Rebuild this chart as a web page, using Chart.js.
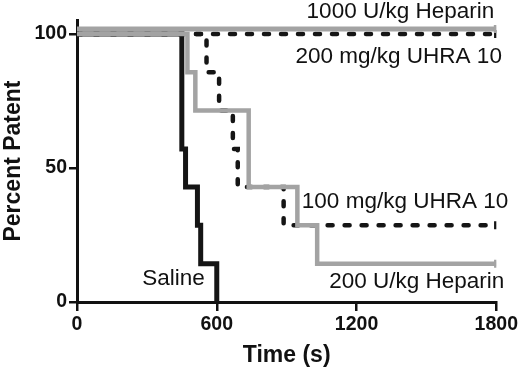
<!DOCTYPE html>
<html>
<head>
<meta charset="utf-8">
<script src="https://cdn.jsdelivr.net/npm/chart.js@4/dist/chart.umd.min.js"></script>
<style>
  html, body { margin: 0; padding: 0; background: #fff; }
  #wrap { width: 520px; height: 370px; }
</style>
</head>
<body>
<div id="wrap"><canvas id="chartArea"></canvas></div>
<script>
'use strict'
// Kaplan-Meier style steps: time (s) where each drop happens, percent after the drop
const salineTime = [0, 450, 466, 517, 531, 600];
const salinePct  = [100, 57.1, 42.9, 28.6, 14.3, 0];
const hep200Time = [0, 474, 508, 737, 946, 1031, 1800];
const hep200Pct  = [100, 85.7, 71.4, 42.9, 28.6, 14.3, 14.3];
const uhra100Time = [0, 556, 610, 669, 690, 887, 1800];
const uhra100Pct  = [100, 85.7, 71.4, 57.1, 42.9, 28.6, 28.6];
const uhra200Time = [0, 1800];
const uhra200Pct  = [100, 100];
const hep1000Time = [0, 1800];
const hep1000Pct  = [101.8, 101.8];   // drawn nudged just above 100 in the figure

const xTicks = [0, 600, 1200, 1800];
const yTicks = [0, 50, 100];

const seriesNames = ['1000 U/kg Heparin', '200 mg/kg UHRA 10', '100 mg/kg UHRA 10', '200 U/kg Heparin', 'Saline'];

// text labels next to the curves (anchor in data units)
const curveLabels = [
    { text: seriesNames[0], t: 1791, p: 105.8, align: 'right' },
    { text: seriesNames[1], t: 1824, p: 89.2, align: 'right' },
    { text: seriesNames[2], t: 1851, p: 35.2, align: 'right' },
    { text: seriesNames[3], t: 1834, p: 5.2, align: 'right' },
    { text: seriesNames[4], t: 414, p: 6.3, align: 'center' }
];

const GRAY = '#a3a3a3';
const BLACK = '#151515';
const FONT = '"Liberation Sans", Arial, sans-serif';

function pts(ts, ps) {
    let out = [];
    for (let i = 0; i < ts.length; i++) {
        out.push({ x: ts[i], y: ps[i] });
    }
    return out;
}

function endTick(n) {
    return function(ctx) { return ctx.dataIndex === n - 1 ? 4 : 0; };
}

const labelPlugin = {
    id: 'curveLabels',
    afterDatasetsDraw(chart) {
        let ctx = chart.ctx;
        let xs = chart.scales.x, ys = chart.scales.y;
        ctx.save();
        ctx.fillStyle = '#111';
        ctx.font = '22.5px ' + FONT;
        ctx.textBaseline = 'alphabetic';
        for (let k = 0; k < curveLabels.length; k++) {
            let l = curveLabels[k];
            ctx.textAlign = l.align;
            ctx.fillText(l.text, xs.getPixelForValue(l.t), ys.getPixelForValue(l.p));
        }
        ctx.restore();
    }
};

let ctx = document.getElementById('chartArea').getContext('2d');
let chart = new Chart(ctx, {
    type: 'line',
    data: {
        datasets: [
            {
                label: seriesNames[0],
                data: pts(hep1000Time, hep1000Pct),
                borderColor: GRAY, backgroundColor: GRAY,
                borderWidth: 5, stepped: 'before',
                pointStyle: 'line', rotation: 90, pointRadius: endTick(hep1000Time.length),
                order: 0
            },
            {
                label: seriesNames[3],
                data: pts(hep200Time, hep200Pct),
                borderColor: GRAY, backgroundColor: GRAY,
                borderWidth: 4.5, stepped: 'before',
                pointStyle: 'line', rotation: 90, pointRadius: endTick(hep200Time.length),
                order: 0
            },
            {
                label: seriesNames[1],
                data: pts(uhra200Time, uhra200Pct),
                borderColor: BLACK, backgroundColor: BLACK,
                borderWidth: 4.5, stepped: 'before',
                borderDash: [5, 12], borderCapStyle: 'round',
                pointStyle: 'line', rotation: 90, pointRadius: endTick(uhra200Time.length),
                order: 1
            },
            {
                label: seriesNames[2],
                data: pts(uhra100Time, uhra100Pct),
                borderColor: BLACK, backgroundColor: BLACK,
                borderWidth: 4.5, stepped: 'before',
                borderDash: [5, 12], borderCapStyle: 'round',
                pointStyle: 'line', rotation: 90, pointRadius: endTick(uhra100Time.length),
                order: 1
            },
            {
                label: seriesNames[4],
                data: pts(salineTime, salinePct),
                borderColor: BLACK, backgroundColor: BLACK,
                borderWidth: 5, stepped: 'before',
                pointRadius: 0,
                order: 2
            }
        ]
    },
    options: {
        responsive: true,
        maintainAspectRatio: false,
        animation: false,
        layout: { padding: { top: 20, right: 23, bottom: 0, left: 0 } },
        plugins: {
            legend: { display: false },
            tooltip: { enabled: false }
        },
        scales: {
            x: {
                type: 'linear',
                min: 0, max: 1800,
                afterBuildTicks: function(s) { s.ticks = xTicks.map(v => ({ value: v })); },
                afterFit: function(s) { s.height = 68; },
                grid: { display: true, drawOnChartArea: false, drawTicks: true, tickLength: 9, color: '#111', lineWidth: 2.5 },
                border: { display: true, color: '#111', width: 3 },
                ticks: {
                    color: '#111', padding: 2,
                    callback: function(v) { return String(v); },
                    font: { family: FONT, size: 19.5, weight: 'bold' }
                },
                title: {
                    display: true, text: 'Time (s)', color: '#111',
                    padding: { top: 0, bottom: 1 },
                    font: { family: FONT, size: 23, weight: 'bold' }
                }
            },
            y: {
                min: 0, max: 105.2,
                afterBuildTicks: function(s) { s.ticks = yTicks.map(v => ({ value: v })); },
                afterFit: function(s) { s.width = 77; },
                grid: { display: true, drawOnChartArea: false, drawTicks: true, tickLength: 8, color: '#111', lineWidth: 2.5 },
                border: { display: true, color: '#111', width: 3 },
                ticks: {
                    color: '#111', padding: 2,
                    callback: function(v) { return String(v); },
                    font: { family: FONT, size: 19.5, weight: 'bold' }
                },
                title: {
                    display: true, text: 'Percent Patent', color: '#111',
                    padding: { top: 0, bottom: 0 },
                    font: { family: FONT, size: 23, weight: 'bold' }
                }
            }
        }
    },
    plugins: [labelPlugin]
});
</script>
</body>
</html>
